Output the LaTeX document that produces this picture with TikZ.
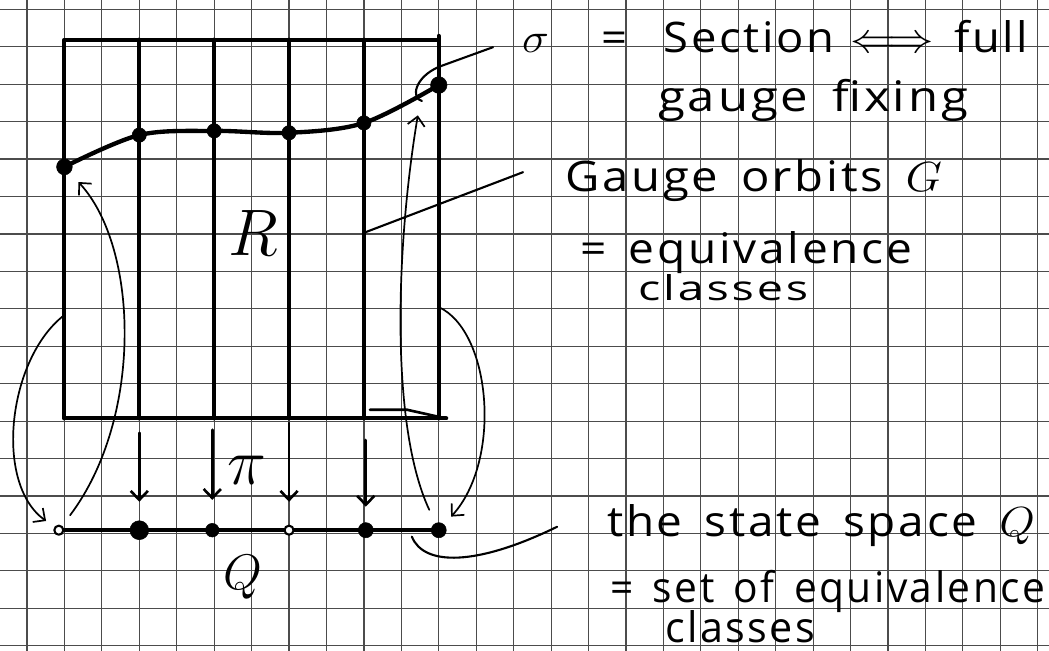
\RequirePackage{fix-cm}
\documentclass[tikz,border=0pt]{standalone}
\usepackage{amssymb}
\usepackage{graphicx}
\usepackage{fontspec}
\newfontfamily\hand[LetterSpace=6,WordSpace=1.5]{Open Sans}
\newcommand{\etire}[2]{\resizebox{#1}{\height}{#2}}
\usetikzlibrary{arrows.meta}

\begin{document}
\begin{tikzpicture}[line cap=round,line join=round,>={Straight Barb[length=2.4mm,width=4.6mm]},x=1cm,y=1.012cm,
	grille/.style={black!70, line width=0.9pt},
	bord/.style={line width=3pt},
	fleche/.style={->, line width=1.3pt},
	proj/.style={->, line width=2pt},
	renvoi/.style={line width=1.6pt},
	ecrit/.style={font=\hand\fontsize{32}{38}\selectfont, inner sep=0pt, anchor=base west}]
		\useasboundingbox (-0.721,-0.132) rectangle (27.30,17.045);
		% papier quadrille
		\draw[grille] (-0.721,-0.132) grid (27.30,17.045);
		% points de la section
		\coordinate (s1) at (1,12.64);
		\coordinate (s2) at (3,13.48);
		\coordinate (s3) at (5,13.59);
		\coordinate (s4) at (7,13.54);
		\coordinate (s5) at (9,13.80);
		\coordinate (s6) at (11,14.80);
		% points de Q
		\coordinate (q1) at (0.85,3.05);
		\coordinate (q2) at (3,3.05);
		\coordinate (q3) at (4.95,3.05);
		\coordinate (q4) at (7,3.05);
		\coordinate (q5) at (9.05,3.05);
		\coordinate (q6) at (11,3.05);
		% bouts libres
		\coordinate (o1) at (1,8.73);
		\coordinate (o6) at (11,8.94);
		\coordinate (f6) at (10.44,14.0);
		\coordinate (l1) at (12.45,15.8);
		\coordinate (l2) at (9,10.9);
		\coordinate (l3) at (13.25,12.5);
		\coordinate (l4) at (10.28,2.88);
		\coordinate (l5) at (14.16,3.14);
		% rectangle et orbites
		\draw[bord] (1,6) -- (1,16) -- (11,16);
		\draw[bord] (11,16.1) -- (11,6);
		\draw[bord] (1,6) -- (11.2,6);
		\draw[bord] (3,6) -- (3,16);
		\draw[bord] (5,6) -- (5,16);
		\draw[bord] (7,6) -- (7,16);
		\draw[bord] (9,6) -- (9,16);
		\draw[line width=2pt] (9.16,6.23) -- (10.15,6.23) -- (11.1,6.02);
		% la section
		\draw[line width=3.3pt] plot[smooth, tension=0.55] coordinates {(s1) (s2) (s3) (s4) (s5) (s6)};
		% l'espace Q
		\draw[bord] (q1) -- (q6);
		% projections
		\draw[proj] (q2) ++(0,2.57) -- ++(0,-1.82);
		\draw[proj] (q3) ++(0,2.65) -- ++(0,-1.85);
		\draw[proj] (q4) ++(0,2.83) -- ++(0,-2.08);
		\draw[proj] (q5) ++(0,2.38) -- ++(0,-1.76);
		% fleches courbes
		\draw[fleche, shorten >=0.42cm] (o1) .. controls (-0.5,7.6) and (-0.9,4.3) .. (q1);
		\draw[fleche, shorten <=0.5cm, shorten >=0.55cm] (q1) .. controls (3.1,6.0) and (3.0,10.5) .. (s1);
		\draw[fleche, shorten <=0.6cm] (q6) .. controls (9.7,5.8) and (9.85,10.5) .. (f6);
		\draw[fleche, shorten >=0.49cm] (o6) .. controls (12.4,8.3) and (12.7,4.9) .. (q6);
		% renvois vers les textes
		\draw[renvoi] (l1) -- (11.0,15.28) .. controls (10.35,15.0) and (10.25,14.45) .. (10.55,14.38);
		\draw[renvoi] (l2) -- (l3);
		\draw[renvoi] (l4) .. controls (10.6,2.1) and (12.0,2.1) .. (l5);
		% marquages des points
		\filldraw (s1) circle (0.21);
		\filldraw (s2) circle (0.19);
		\filldraw (s3) circle (0.19);
		\filldraw (s4) circle (0.19);
		\filldraw (s5) circle (0.19);
		\filldraw (s6) circle (0.22);
		\draw[line width=1.6pt, fill=white] (q1) circle (0.12);
		\filldraw (q2) circle (0.25);
		\filldraw (q3) circle (0.18);
		\draw[line width=1.6pt, fill=white] (q4) circle (0.12);
		\filldraw (q5) circle (0.2);
		\filldraw (q6) circle (0.2);
		% lettres
		\node[font=\fontsize{50}{56}\selectfont] (R) at (6.04,10.9) {$R$};
		\node[font=\fontsize{50}{56}\selectfont] (pi) at (5.87,4.64) {$\pi$};
		\node[font=\fontsize{38}{44}\selectfont] (Q) at (5.77,1.82) {$Q$};
		% textes
		\node[ecrit] (section) at (13.22,15.66) {\etire{13.52cm}{$\sigma$\hspace{1.3cm}=\hspace{0.9cm}Section\hspace{0.4cm}$\Longleftrightarrow$\hspace{0.5cm}full}};
		\node[ecrit] (fixing) at (16.85,14.09) {\etire{8.28cm}{gauge fixing}};
		\node[ecrit] (orbites) at (14.37,11.98) {\etire{10.07cm}{Gauge orbits $G$}};
		\node[ecrit] (equiv) at (14.77,10.1) {\etire{8.87cm}{= equivalence}};
		\node[ecrit, font=\hand\fontsize{26}{30}\selectfont] (classes) at (16.32,9.1) {\etire{4.54cm}{classes}};
		\node[ecrit] (etats) at (15.49,2.88) {\etire{11.43cm}{the state space $Q$}};
		\node[ecrit] (ensemble) at (15.57,1.13) {\etire{11.62cm}{= set of equivalence}};
		\node[ecrit] (classesb) at (17.04,0.08) {\etire{4.01cm}{classes}};
		\end{tikzpicture}
\end{document}
